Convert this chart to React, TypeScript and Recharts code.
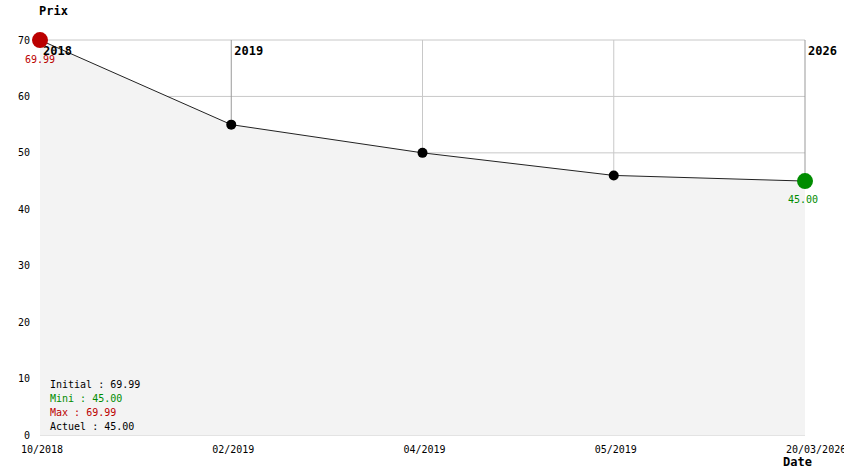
import { ComposedChart, Area, Line, XAxis, YAxis, CartesianGrid, ReferenceLine } from "recharts";

const dates = ["10/2018", "02/2019", "04/2019", "05/2019", "20/03/2026"];
const prices = [69.99, 55, 50, 46, 45];
const yTicks = [0, 10, 20, 30, 40, 50, 60, 70];
// year markers: first date of each year shown on the chart
const yearMarks = [
  { date: "10/2018", year: "2018", price: 69.99 },
  { date: "02/2019", year: "2019", price: 55 },
  { date: "20/03/2026", year: "2026", price: 45 },
];
const stats = [
  { label: "Initial", value: "69.99", color: "#000" },
  { label: "Mini", value: "45.00", color: "#008c00" },
  { label: "Max", value: "69.99", color: "#bb0000" },
  { label: "Actuel", value: "45.00", color: "#000" },
];

const data = dates.map((d, i) => ({ date: d, price: prices[i] }));
const yearOf = (d: string) => yearMarks.find((m) => m.date === d);

const mono = "'DejaVu Sans Mono', monospace";

function XTick(props: any) {
  const { x, y, payload } = props;
  return (
    <text x={x - 19} y={y + 10} textAnchor="start" fontSize={10} fontFamily={mono} fill="#000">
      {payload.value}
    </text>
  );
}

function YearText({ x, value }: { x: number; value: string }) {
  return (
    <text x={x + 3} y={55} fontSize={12} fontWeight="bold" fontFamily={mono} fill="#000">
      {value}
    </text>
  );
}

// dots are drawn over the year labels, so labels come from here
function PriceDot(props: any) {
  const { cx, cy, index, payload } = props;
  const mark = yearOf(payload.date);
  const last = index === prices.length - 1;
  return (
    <g key={index}>
      {mark && <YearText x={cx} value={mark.year} />}
      {index === 0 ? (
        <>
          <circle cx={cx} cy={cy} r={8} fill="#bb0000" />
          <text x={cx} y={cy + 23} textAnchor="middle" fontSize={10} fontFamily={mono} fill="#bb0000">
            {prices[0].toFixed(2)}
          </text>
        </>
      ) : last ? (
        <>
          <circle cx={cx} cy={cy} r={8} fill="#008c00" />
          <text x={cx - 2} y={cy + 22} textAnchor="middle" fontSize={10} fontFamily={mono} fill="#008c00">
            {prices[index].toFixed(2)}
          </text>
        </>
      ) : (
        <circle cx={cx} cy={cy} r={5} fill="#000" />
      )}
    </g>
  );
}

export default function App() {
  return (
    <div style={{ position: "absolute", left: 0, top: 0, width: 844, height: 474, background: "#fff" }}>
      <ComposedChart width={844} height={474} data={data} margin={{ top: 40, right: 39, bottom: 0, left: 0 }}>
        <CartesianGrid stroke="#c8c8c8" strokeWidth={1} vertical={false} />
        <XAxis
          dataKey="date"
          scale="point"
          padding={{ left: 0, right: 0 }}
          axisLine={false}
          tickLine={false}
          height={39}
          tick={<XTick />}
          interval={0}
        />
        <YAxis
          domain={[0, 70]}
          ticks={yTicks}
          width={40}
          axisLine={false}
          tickLine={false}
          tickMargin={4}
          tick={{ fontSize: 10, fontFamily: mono, fill: "#000" }}
        />
        <Area
          type="linear"
          dataKey="price"
          fill="#f3f3f3"
          fillOpacity={1}
          stroke="none"
          isAnimationActive={false}
        />
        {data.slice(1).map((d) => (
          <ReferenceLine
            key={d.date}
            segment={[{ x: d.date, y: d.price }, { x: d.date, y: 70 }]}
            stroke={yearOf(d.date) ? "#999" : "#c8c8c8"}
            strokeWidth={1}
          />
        ))}
        <Line
          type="linear"
          dataKey="price"
          stroke="#222"
          strokeWidth={1}
          dot={<PriceDot />}
          activeDot={false}
          isAnimationActive={false}
        />
      </ComposedChart>
      <div style={{ position: "absolute", left: 39, top: 4, fontFamily: mono, fontSize: 12, fontWeight: "bold" }}>
        Prix
      </div>
      <div style={{ position: "absolute", left: 783, top: 455, fontFamily: mono, fontSize: 12, fontWeight: "bold" }}>
        Date
      </div>
      <div style={{ position: "absolute", left: 50, top: 378, fontFamily: mono, fontSize: 10, lineHeight: "14px" }}>
        {stats.map((s) => (
          <div key={s.label} style={{ color: s.color, whiteSpace: "pre" }}>
            {s.label} : {s.value}
          </div>
        ))}
      </div>
    </div>
  );
}
